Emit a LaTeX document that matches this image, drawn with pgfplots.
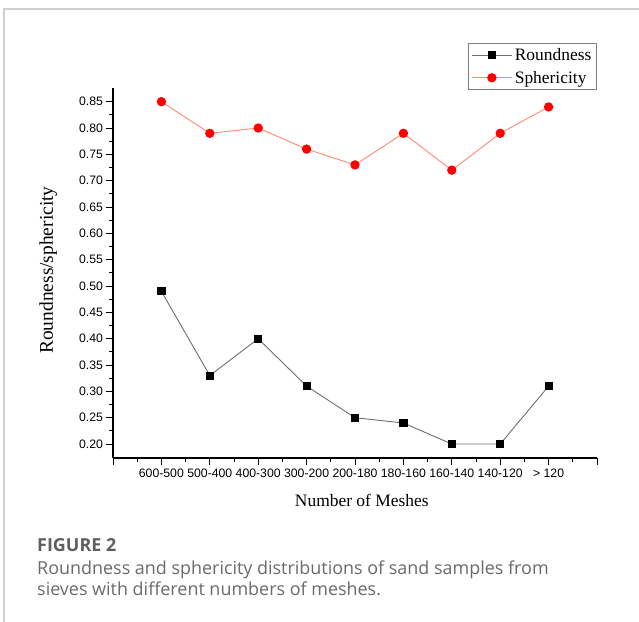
\documentclass[border=0pt]{standalone}
\usepackage{pgfplots}
\pgfplotsset{compat=1.18}
\usepackage{fontspec}
\setmainfont{Liberation Serif}
\newfontfamily\arialf{Liberation Sans}
\newfontfamily\capf{Open Sans}
\definecolor{capgray}{HTML}{6A6A6A}
\definecolor{capdark}{HTML}{5E5E5E}
\definecolor{frame}{HTML}{CFCFCF}
\definecolor{rline}{HTML}{6E6E6E}
\definecolor{sline}{HTML}{FF8A70}
\begin{document}
\begin{tikzpicture}
\path[use as bounding box] (0,0) rectangle (639bp,-622bp);
\draw[frame, line width=1.2bp] (4bp,-622bp) -- (4bp,-9bp) -- (639bp,-9bp);
\begin{axis}[
  at={(113bp,-458bp)}, anchor=south west,
  scale only axis, width=484bp, height=370bp,
  xmin=0, xmax=10, ymin=0.1735, ymax=0.876,
  axis x line*=bottom, axis y line*=left,
  axis line style={black, line width=1.2bp},
  tick align=outside, tick style={black, line width=1bp},
  major tick length=6.5bp, minor tick length=3.5bp,
  xtick={0,1,2,3,4,5,6,7,8,9,10},
  xticklabels={{},600-500,500-400,400-300,300-200,200-180,180-160,160-140,140-120,> 120,{}},
  minor x tick num=1,
  ytick={0.20,0.25,0.30,0.35,0.40,0.45,0.50,0.55,0.60,0.65,0.70,0.75,0.80,0.85},
  minor y tick num=1,
  yticklabel style={/pgf/number format/fixed, /pgf/number format/zerofill, /pgf/number format/precision=2},
  /pgf/number format/assume math mode=true,
  ticklabel style={font=\arialf\fontsize{12.3}{14}\selectfont},
  xticklabel style={yshift=-1bp},
  xlabel={Number of Meshes}, ylabel={Roundness/sphericity},
  xlabel style={font=\fontsize{17.5}{18}\selectfont, at={(0.514,-0.1324)}, anchor=base},
  ylabel style={font=\fontsize{19.5}{20}\selectfont, at={(-0.124,0.508)}, anchor=base},
  legend style={at={(0.7335,1.1216)}, anchor=north west, draw=gray, line width=0.8bp,
     font=\fontsize{17.5}{18}\selectfont, row sep=4bp, inner xsep=3bp, inner ysep=2.5bp,
     nodes={inner sep=2.5bp}},
  legend cell align=left,
  legend image code/.code={\draw[mark repeat=2, mark phase=2] plot coordinates {(0bp,0bp) (20bp,0bp) (40bp,0bp)};},
]
\addplot[rline, line width=0.9bp, mark=square*, mark size=3.6bp, mark options={black, fill=black, solid}]
  coordinates {(1,0.49) (2,0.33) (3,0.40) (4,0.31) (5,0.25) (6,0.24) (7,0.20) (8,0.20) (9,0.31)};
\addlegendentry{Roundness}
\addplot[sline, line width=0.9bp, mark=*, mark size=4.2bp, mark options={red, fill=red, solid}]
  coordinates {(1,0.85) (2,0.79) (3,0.80) (4,0.76) (5,0.73) (6,0.79) (7,0.72) (8,0.79) (9,0.84)};
\addlegendentry{Sphericity}
\end{axis}
\node[anchor=base west, text=capdark, font=\capf\bfseries\fontsize{18}{20}\selectfont, inner sep=0pt] at (37bp,-551bp) {FIGURE 2};
\node[anchor=base west, text=capgray, font=\capf\fontsize{18}{20}\selectfont, inner sep=0pt] at (37bp,-574bp) {Roundness and sphericity distributions of sand samples from};
\node[anchor=base west, text=capgray, font=\capf\fontsize{18}{20}\selectfont, inner sep=0pt] at (37bp,-595bp) {sieves with different numbers of meshes.};
\end{tikzpicture}
\end{document}
